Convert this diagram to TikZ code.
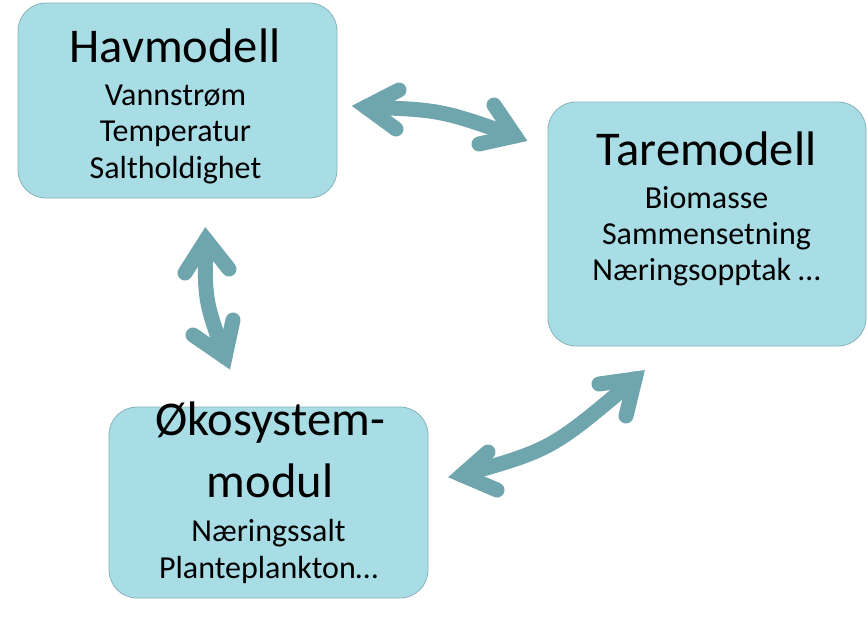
\documentclass[tikz,border=0pt]{standalone}
\usepackage{fontspec}
\setmainfont{Carlito}
\definecolor{boxfill}{HTML}{A8DDE6}
\definecolor{boxline}{HTML}{86B3BB}
\definecolor{arrowc}{HTML}{6FA5AD}
\tikzset{
  modelbox/.style={draw=boxline, line width=0.8pt, fill=boxfill, rounded corners=28pt, inner sep=0pt},
  titletext/.style={anchor=base, inner sep=0pt, font=\fontsize{48.5}{50}\selectfont},
  subtext/.style={anchor=base, inner sep=0pt, font=\fontsize{32}{34}\selectfont},
  bigarrow/.style={draw=arrowc, line width=15pt, line cap=round, line join=miter}
}
\begin{document}
\begin{tikzpicture}[x=1pt, y=1pt]
\useasboundingbox (0,0) rectangle (868,-619);
% boxes
\node[modelbox, minimum width=319pt, minimum height=195pt] (hav) at (177.5,-100.5) {};
\node[modelbox, minimum width=318pt, minimum height=244pt] (tare) at (707,-224) {};
\node[modelbox, minimum width=319pt, minimum height=191pt] (oko) at (268.5,-502.5) {};
% texts
\node[titletext] (havT) at (175,-62) {Havmodell};
\node[subtext] (hav1) at (175.5,-105) {Vannstrøm};
\node[subtext] (hav2) at (175.5,-141) {Temperatur};
\node[subtext] (hav3) at (175.5,-178) {Saltholdighet};
\node[titletext] (tareT) at (706.5,-165) {Taremodell};
\node[subtext] (tare1) at (706.5,-208) {Biomasse};
\node[subtext] (tare2) at (706.5,-244) {Sammensetning};
\node[subtext] (tare3) at (706.5,-280) {Næringsopptak …};
\node[titletext] (okoT) at (270,-435) {Økosystem-};
\node[titletext] (okoT2) at (270,-497) {modul};
\node[subtext] (oko1) at (268.5,-541) {Næringssalt};
\node[subtext] (oko2) at (268.5,-578) {Planteplankton…};
% arrow hav <-> tare
\coordinate (aLt) at (366,-107);
\coordinate (aL1) at (399,-90);
\coordinate (aL2) at (396,-129);
\coordinate (aC) at (441,-110);
\coordinate (aRt) at (515,-136);
\coordinate (aR1) at (494,-105);
\coordinate (aR2) at (479,-144);
\draw[bigarrow] (aL1) -- (aLt) -- (aL2);
\draw[bigarrow] (aLt) .. controls (aC) .. (aRt);
\draw[bigarrow] (aR1) -- (aRt) -- (aR2);
% arrow hav <-> oko
\coordinate (bTt) at (206,-240);
\coordinate (bT1) at (185,-273);
\coordinate (bT2) at (229,-269);
\coordinate (bC) at (204.5,-299.5);
\coordinate (bBt) at (225,-357);
\coordinate (bB1) at (193,-335);
\coordinate (bB2) at (233,-320);
\draw[bigarrow] (bT1) -- (bTt) -- (bT2);
\draw[bigarrow] (bTt) .. controls (bC) .. (bBt);
\draw[bigarrow] (bB1) -- (bBt) -- (bB2);
% arrow oko <-> tare
\coordinate (cLt) at (462,-475);
\coordinate (cL1) at (488,-452);
\coordinate (cL2) at (497,-490);
\coordinate (cC) at (551.5,-449.5);
\coordinate (cRt) at (635,-379);
\coordinate (cR1) at (599,-384);
\coordinate (cR2) at (626,-416);
\draw[bigarrow] (cL1) -- (cLt) -- (cL2);
\draw[bigarrow] (cLt) .. controls (cC) .. (cRt);
\draw[bigarrow] (cR1) -- (cRt) -- (cR2);
\end{tikzpicture}
\end{document}
